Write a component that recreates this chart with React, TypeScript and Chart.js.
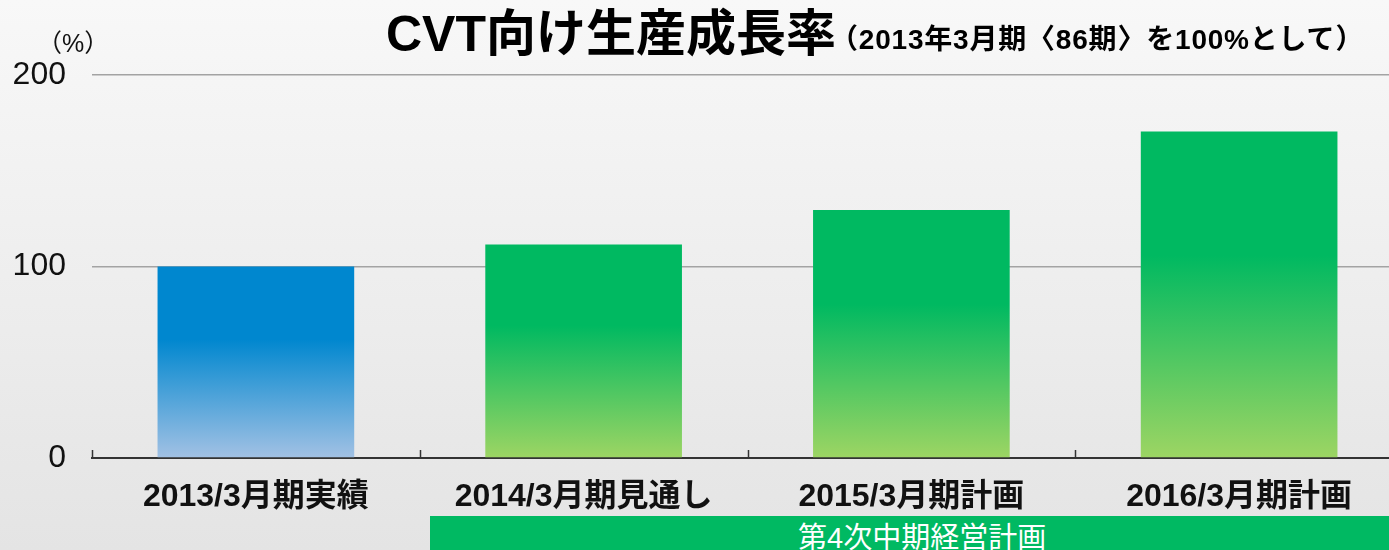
import React, { useEffect, useRef } from "react";
import { Chart, registerables } from "chart.js";

Chart.register(...registerables);

const categories = ["2013/3月期実績", "2014/3月期見通し", "2015/3月期計画", "2016/3月期計画"];
const growthValues = [100, 111.5, 129.5, 170.5];
const barKinds = ["actual", "plan", "plan", "plan"];
const yTickValues = [0, 100, 200];
const titleMain = "CVT向け生産成長率";
const titleSub = "（2013年3月期〈86期〉を100%として）";
const unitLabel = "（%）";
const bannerLabel = "第4次中期経営計画";

const LATIN_CJK = '"Liberation Sans", "Noto Sans CJK JP", sans-serif';

const boundaryTicks = {
  id: "boundaryTicks",
  afterDatasetsDraw(chart: any) {
    const xs = chart.scales.x;
    const ys = chart.scales.y;
    const base = ys.getPixelForValue(0);
    const n = categories.length;
    const step = xs.width / n;
    const ctx = chart.ctx;
    ctx.save();
    ctx.strokeStyle = "#333";
    ctx.lineWidth = 1.5;
    for (let i = 0; i <= n; i++) {
      const px = Math.round(xs.left + i * step) + 0.5;
      ctx.beginPath();
      ctx.moveTo(px, base);
      ctx.lineTo(px, base - 8);
      ctx.stroke();
    }
    ctx.restore();
  },
};

export default function App() {
  const canvasRef = useRef<HTMLCanvasElement | null>(null);

  useEffect(() => {
    if (!canvasRef.current) return;
    const chart = new Chart(canvasRef.current, {
      type: "bar",
      data: {
        labels: categories,
        datasets: [
          {
            data: growthValues,
            barPercentage: 0.6,
            categoryPercentage: 1,
            borderWidth: 0,
            backgroundColor: (c: any) => {
              const ch = c.chart;
              const kind = barKinds[c.dataIndex];
              const solid = kind === "actual" ? "#0087cf" : "#00b961";
              const light = kind === "actual" ? "#a2c1e4" : "#9dd563";
              const ys = ch.scales && ch.scales.y;
              if (!ys || !ch.chartArea || c.type !== "data") return solid;
              const top = ys.getPixelForValue(growthValues[c.dataIndex]);
              const base = ys.getPixelForValue(0);
              const g = ch.ctx.createLinearGradient(0, top, 0, base);
              g.addColorStop(0, solid);
              g.addColorStop(0.38, solid);
              g.addColorStop(1, light);
              return g;
            },
          },
        ],
      },
      options: {
        responsive: false,
        animation: false,
        layout: { padding: { top: 75, left: 0, right: 0, bottom: 0 } },
        plugins: { legend: { display: false }, tooltip: { enabled: false }, title: { display: false } },
        scales: {
          x: {
            grid: { display: false, drawTicks: false },
            border: { display: true, color: "#333", width: 2 },
            ticks: {
              color: "#111",
              padding: 20,
              font: { family: LATIN_CJK, size: 32, weight: "bold" },
            },
            afterFit: (s: any) => {
              s.height = 92;
            },
          },
          y: {
            min: 0,
            max: 200,
            afterBuildTicks: (s: any) => {
              s.ticks = yTickValues.map((v) => ({ value: v }));
            },
            grid: {
              drawTicks: false,
              color: (c: any) => (c.tick && c.tick.value === 0 ? "rgba(0,0,0,0)" : "#a3a3a3"),
              lineWidth: 1.5,
            },
            border: { display: false },
            ticks: {
              color: "#111",
              padding: 26,
              font: { family: LATIN_CJK, size: 32 },
            },
            afterFit: (s: any) => {
              s.width = 92;
            },
          },
        },
      } as any,
      plugins: [boundaryTicks],
    });
    return () => chart.destroy();
  }, []);

  return (
    <div
      style={{
        position: "fixed",
        left: 0,
        top: 0,
        width: 1389,
        height: 550,
        overflow: "hidden",
        background: "linear-gradient(#f8f8f8, #e4e4e4)",
      }}
    >
      <div style={{ position: "absolute", left: 0, top: 0, width: 1403, height: 550 }}>
        <canvas ref={canvasRef} width={1403} height={550} style={{ width: 1403, height: 550, display: "block" }} />
      </div>
      <div
        style={{
          position: "absolute",
          left: 386,
          top: 8,
          fontFamily: LATIN_CJK,
          fontWeight: "bold",
          fontSize: 50,
          lineHeight: "52px",
          color: "#000",
          whiteSpace: "nowrap",
        }}
      >
        {titleMain}
      </div>
      <div
        style={{
          position: "absolute",
          left: 830,
          top: 24,
          fontFamily: LATIN_CJK,
          fontWeight: "bold",
          fontSize: 28,
          lineHeight: "32px",
          letterSpacing: 0.8,
          color: "#000",
          whiteSpace: "nowrap",
        }}
      >
        {titleSub}
      </div>
      <div
        style={{
          position: "absolute",
          left: 37,
          top: 29,
          fontFamily: LATIN_CJK,
          fontSize: 25,
          lineHeight: "28px",
          color: "#111",
          whiteSpace: "nowrap",
        }}
      >
        {unitLabel}
      </div>
      <div
        style={{
          position: "absolute",
          left: 430,
          top: 516,
          width: 959,
          height: 40,
          background: "#00b962",
        }}
      >
        <div
          style={{
            position: "absolute",
            left: 368,
            top: 4,
            fontFamily: LATIN_CJK,
            fontSize: 29,
            lineHeight: "36px",
            color: "#fff",
            whiteSpace: "nowrap",
          }}
        >
          {bannerLabel}
        </div>
      </div>
    </div>
  );
}
